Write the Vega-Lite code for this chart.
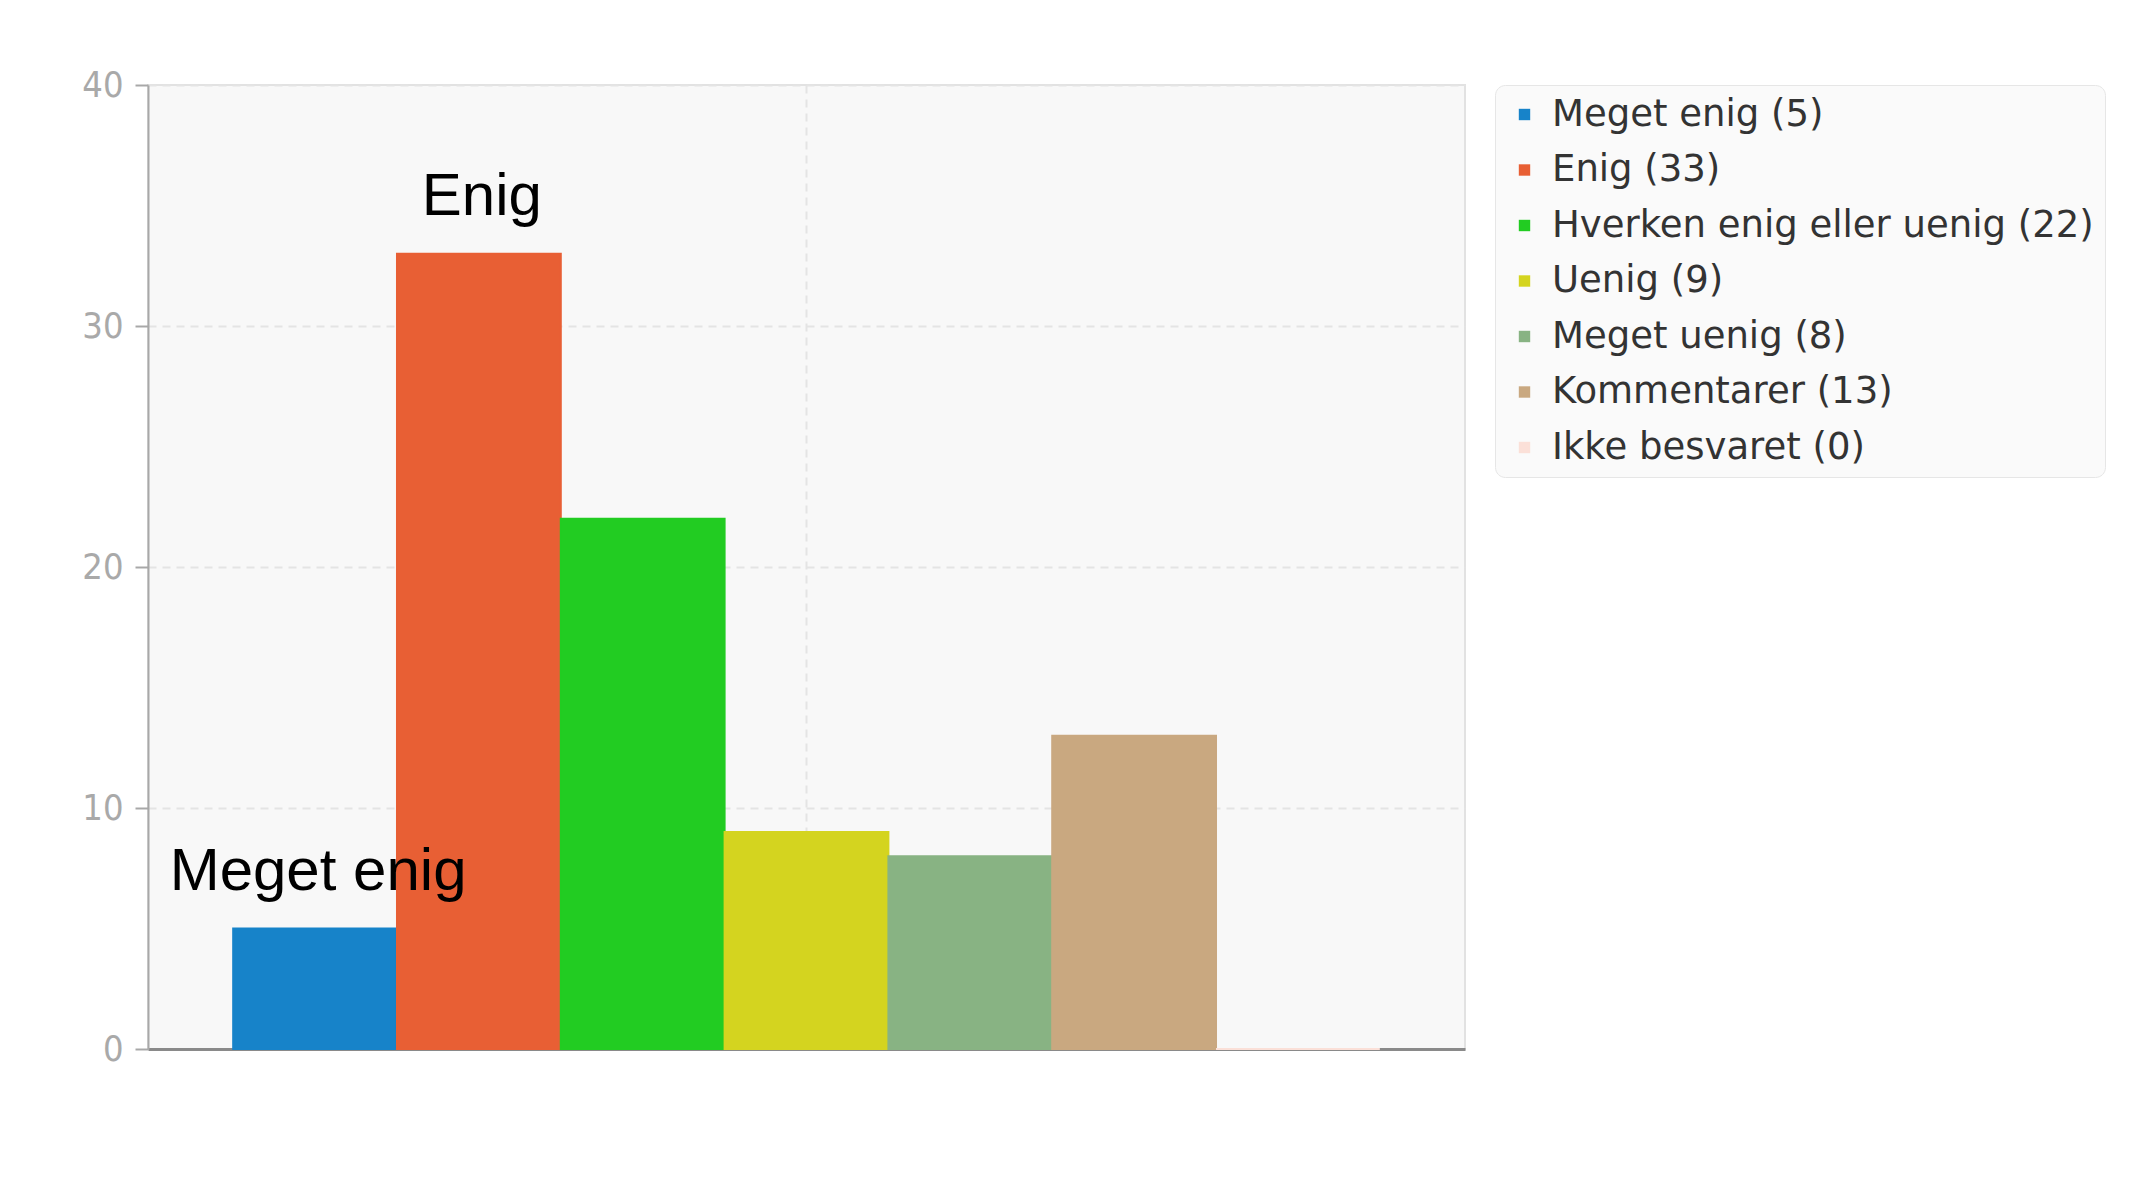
{
  "$schema": "https://vega.github.io/schema/vega-lite/v6.json",
  "autosize": {"type": "none"},
  "padding": {"left": 148, "top": 85, "right": 690, "bottom": 154},
  "width": 1317,
  "height": 964,
  "background": "white",
  "config": {
    "view": {"fill": "#f8f8f8", "stroke": "#e2e2e2", "strokeWidth": 2}
  },
  "data": {
    "values": [
      {"svar": "Meget enig (5)", "antal": 5, "tekst": "Meget enig"},
      {"svar": "Enig (33)", "antal": 33, "tekst": "Enig"},
      {"svar": "Hverken enig eller uenig (22)", "antal": 22, "tekst": ""},
      {"svar": "Uenig (9)", "antal": 9, "tekst": ""},
      {"svar": "Meget uenig (8)", "antal": 8, "tekst": ""},
      {"svar": "Kommentarer (13)", "antal": 13, "tekst": ""},
      {"svar": "Ikke besvaret (0)", "antal": 0, "tekst": ""}
    ]
  },
  "encoding": {
    "x": {
      "field": "svar",
      "type": "nominal",
      "sort": null,
      "scale": {"paddingInner": 0, "paddingOuter": 0.52},
      "axis": {
        "title": null,
        "labels": false,
        "ticks": false,
        "values": ["Uenig (9)"],
        "grid": true,
        "gridColor": "#e4e4e4",
        "gridWidth": 2,
        "gridDash": [8, 6],
        "domainColor": "#8a8a8a",
        "domainWidth": 3
      }
    },
    "y": {
      "field": "antal",
      "type": "quantitative",
      "scale": {"domain": [0, 40], "nice": false},
      "axis": {
        "title": null,
        "values": [0, 10, 20, 30, 40],
        "grid": true,
        "gridColor": "#e4e4e4",
        "gridWidth": 2,
        "gridDash": [8, 6],
        "domainColor": "#a8a8a8",
        "domainWidth": 2,
        "tickColor": "#a8a8a8",
        "tickWidth": 2,
        "tickSize": 13,
        "labelPadding": 12,
        "labelColor": "#a9a9a9",
        "labelFont": "DejaVu Sans Condensed",
        "labelFontSize": 36
      }
    }
  },
  "layer": [
    {
      "mark": {"type": "bar", "strokeWidth": 2},
      "encoding": {
        "color": {
          "field": "svar",
          "type": "nominal",
          "sort": null,
          "scale": {
            "domain": ["Meget enig (5)", "Enig (33)", "Hverken enig eller uenig (22)", "Uenig (9)", "Meget uenig (8)", "Kommentarer (13)", "Ikke besvaret (0)"],
            "range": ["#1783c9", "#e85f34", "#22cc22", "#d4d41f", "#88b383", "#c9a880", "#fbe0d8"]
          },
          "legend": {
            "title": null,
            "orient": "none",
            "legendX": 1347,
            "legendY": 0,
            "padding": 11,
            "fillColor": "#fafafa",
            "strokeColor": "#e6e6e6",
            "cornerRadius": 10,
            "symbolType": "square",
            "symbolSize": 130,
            "symbolStrokeWidth": 0,
            "labelFont": "DejaVu Sans",
            "labelFontSize": 37,
            "labelColor": "#333333",
            "labelOffset": 9,
            "rowPadding": 17.5,
            "labelLimit": 800
          }
        },
        "stroke": {
          "field": "svar",
          "type": "nominal",
          "sort": null,
          "scale": {
            "domain": ["Meget enig (5)", "Enig (33)", "Hverken enig eller uenig (22)", "Uenig (9)", "Meget uenig (8)", "Kommentarer (13)", "Ikke besvaret (0)"],
            "range": ["#1783c9", "#e85f34", "#22cc22", "#d4d41f", "#88b383", "#c9a880", "#fbe0d8"]
          },
          "legend": null
        }
      }
    },
    {
      "mark": {"type": "text", "font": "Liberation Sans", "fontSize": 60, "color": "#000000", "align": "center", "baseline": "alphabetic", "dy": -39, "dx": 3},
      "encoding": {
        "text": {"field": "tekst", "type": "nominal"}
      }
    }
  ]
}
